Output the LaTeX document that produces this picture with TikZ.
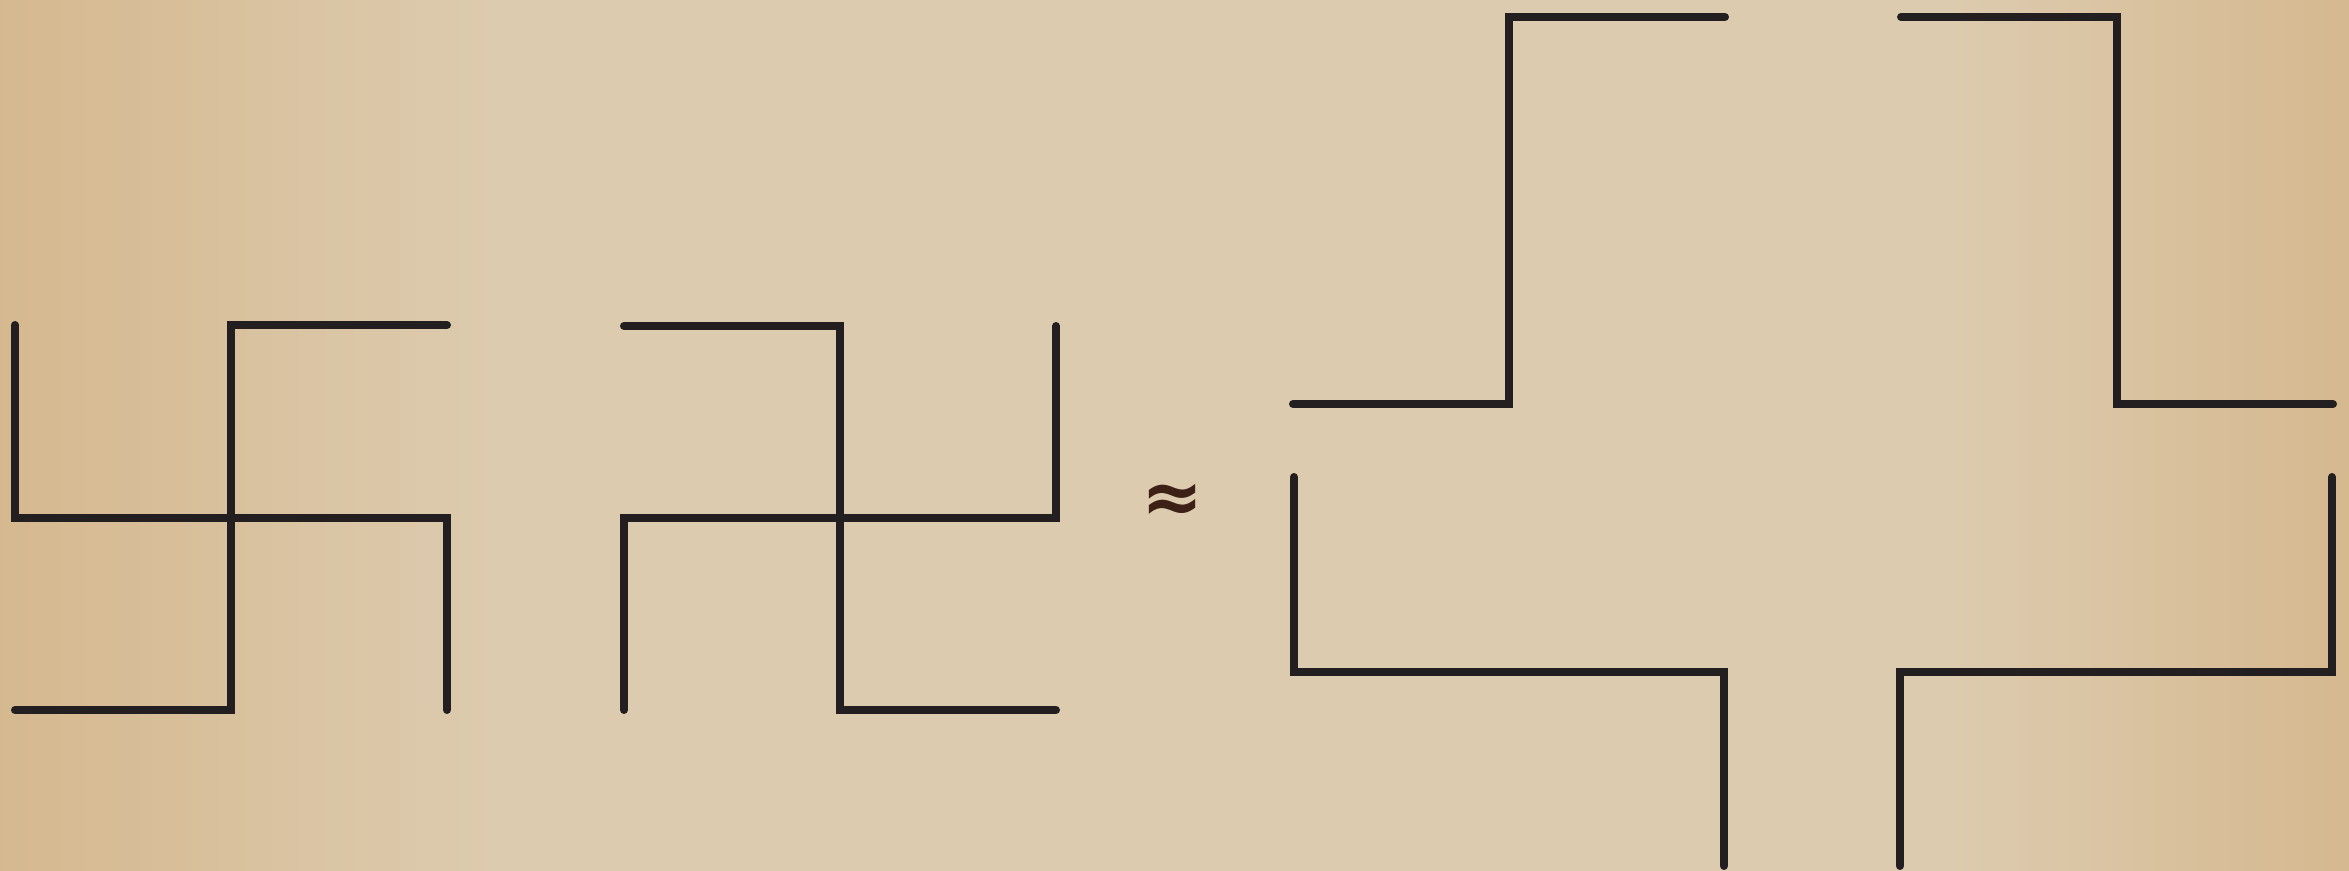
\documentclass[tikz,border=0pt]{standalone}
\usepackage{fontspec}
\newfontfamily\approxfont{DejaVu Sans}
\definecolor{paperA}{HTML}{D5B88E}
\definecolor{paperB}{HTML}{DDCBAF}
\definecolor{ink}{HTML}{231F20}
\definecolor{brownink}{HTML}{3D2016}
\tikzset{
  arm/.style={draw=ink, line width=8pt, line cap=round, line join=miter},
  approxsign/.style={text=brownink, scale=7.4, inner sep=0pt, font=\approxfont\bfseries}
}
\begin{document}
\begin{tikzpicture}[x=1pt, y=-1pt]
\useasboundingbox (0,0) rectangle (2349,870);
\fill[paperB] (-10,-10) rectangle (2359,880);
\shade[left color=paperA, right color=paperB] (-10,-10) rectangle (500,880);
\shade[left color=paperB, right color=paperA] (1950,-10) rectangle (2359,880);
% first figure
\draw[arm] (15,325) -- (15,518) -- (447,518) -- (447,710);
\draw[arm] (447,325) -- (231,325) -- (231,710) -- (15,710);
% second figure
\draw[arm] (624,326) -- (840,326) -- (840,710) -- (1056,710);
\draw[arm] (624,710) -- (624,518) -- (1056,518) -- (1056,326);
% approx sign
\path (1172,503) node[approxsign] (approxnode) {≈};
% right figure: four pieces
\draw[arm] (1293,404) -- (1509,404) -- (1509,17) -- (1725,17);
\draw[arm] (1901,17) -- (2117,17) -- (2117,404) -- (2333,404);
\draw[arm] (1294,477) -- (1294,672) -- (1724,672) -- (1724,866);
\draw[arm] (1900,866) -- (1900,672) -- (2332,672) -- (2332,477);
\end{tikzpicture}
\end{document}
